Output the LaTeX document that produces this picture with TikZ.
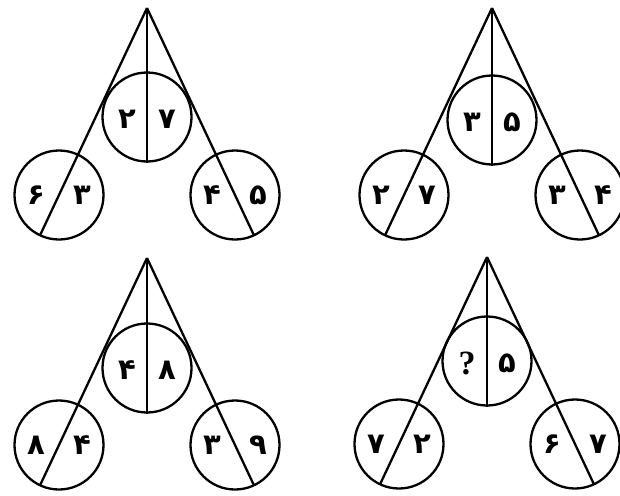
\documentclass[tikz,border=0pt]{standalone}
\usepackage{fontspec}
\newfontfamily\fadig{DejaVu Sans}
\newfontfamily\qfont{Liberation Serif}
\usetikzlibrary{calc}
\tikzset{
  puzfig/.style={x=1pt, y=-1pt, line width=2.3pt},
  ring/.style={circle, draw, minimum size=89pt, inner sep=0pt},
  dig/.style={font=\fadig\bfseries\fontsize{29}{29}\selectfont, inner sep=0pt},
}
\def\SideX{88}
\def\SideY{187}
\def\MidOff{20}
\def\SideOff{23}
\newcommand\qmark{\qfont\bfseries\fontsize{34}{34}\selectfont ?}

\begin{document}
\begin{tikzpicture}[puzfig]
  \useasboundingbox (0,0) rectangle (620,495);

  % ----- one puzzle per row: apex, middle drop, digits (mid / left / right) -----
  \foreach \n/\ax/\ay/\cy/\ca/\cb/\la/\lb/\ra/\rb in {
      a/147/8/109/۲/۷/۶/۳/۴/۵,
      b/492/8/112/۳/۵/۲/۷/۳/۴,
      c/147/258/110/۴/۸/۸/۴/۳/۹,
      d/487/257/104/\qmark/۵/۷/۲/۶/۷}
  {
    \coordinate (apex\n) at (\ax,\ay);

    % circles
    \node[ring] (C\n) at (\ax,\ay+\cy) {};
    \node[ring] (L\n) at (\ax-\SideX,\ay+\SideY) {};
    \node[ring] (R\n) at (\ax+\SideX,\ay+\SideY) {};

    % spokes from the apex
    \draw (apex\n) -- (C\n.south);
    \draw (apex\n) -- ($(L\n.center)!-44.5pt!(apex\n)$);
    \draw (apex\n) -- ($(R\n.center)!-44.5pt!(apex\n)$);

    % digits
    \node[dig] (Ca\n) at ($(C\n.center)+(-\MidOff,2)$) {\ca};
    \node[dig] (Cb\n) at ($(C\n.center)+(\MidOff,2)$) {\cb};
    \node[dig] (La\n) at ($(L\n.center)+(-\SideOff,0)$) {\la};
    \node[dig] (Lb\n) at ($(L\n.center)+(\SideOff,0)$) {\lb};
    \node[dig] (Ra\n) at ($(R\n.center)+(-\SideOff,0)$) {\ra};
    \node[dig] (Rb\n) at ($(R\n.center)+(\SideOff,0)$) {\rb};
  }
\end{tikzpicture}
\end{document}
